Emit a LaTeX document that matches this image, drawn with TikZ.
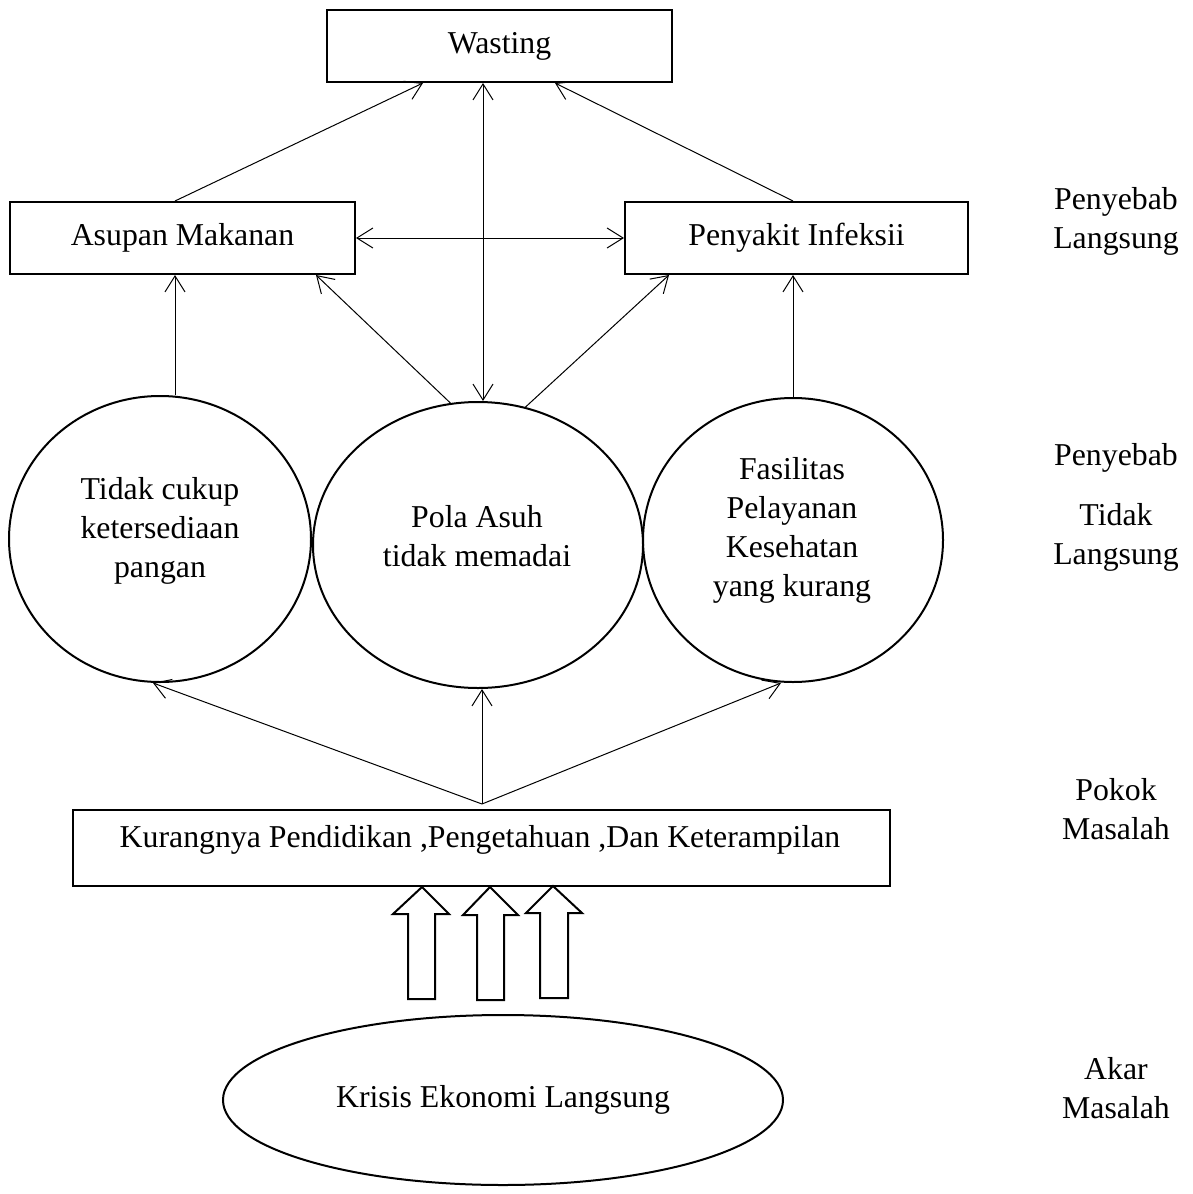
\documentclass[tikz,border=0pt]{standalone}
\usepackage{fontspec}
\setmainfont{Liberation Serif}
\usetikzlibrary{arrows.meta,shapes.geometric}
\begin{document}
\begin{tikzpicture}[x=0.5pt,y=-0.5pt,
  txt/.style={font=\fontsize{15.9pt}{19.5pt}\selectfont, align=center, inner sep=0pt},
  rectnode/.style={txt, draw, line width=1pt, minimum height=36pt},
  ell/.style={txt, draw, ellipse, line width=1pt, inner sep=0pt},
  tipb/.tip={Straight Barb[length=8pt,width=10pt]},
  conn/.style={line width=0.5pt, -tipb},
  dconn/.style={line width=0.5pt, tipb-tipb},
  blockarrow/.style={draw, line width=1pt, fill=white, line join=miter}]
\useasboundingbox (0,0) rectangle (1193,1194);

% boxes
\node[rectnode, minimum width=172.5pt] (wasting) at (499.5,46) {Wasting};
\node[rectnode, minimum width=172.5pt] (asupan) at (182.5,238) {Asupan Makanan};
\node[rectnode, minimum width=171.5pt] (penyakit) at (796.5,238) {Penyakit Infeksii};

% circles
\node[ell, minimum width=151pt, minimum height=143pt] (left) at (160,539) {};
\node[txt] (lefttxt) at (160,531) {Tidak cukup\\ketersediaan\\pangan};
\node[ell, minimum width=165pt, minimum height=143pt] (middle) at (478,545) {};
\node[txt] (midtxt) at (477,536) {Pola Asuh\\tidak memadai};
\node[ell, minimum width=150pt, minimum height=142pt] (right) at (793,540) {};
\node[txt] (righttxt) at (792,530) {Fasilitas\\Pelayanan\\Kesehatan\\yang kurang};

% bottom box and ellipse
\node[draw, line width=1pt, minimum width=408.5pt, minimum height=38pt, inner sep=0pt] (kurang) at (481.5,848) {};
\node[txt] (kurangtxt) at (480,840) {Kurangnya Pendidikan ,Pengetahuan ,Dan Keterampilan};
\node[ell, minimum width=280pt, minimum height=85pt] (krisis) at (503,1100) {Krisis Ekonomi Langsung};

% right-hand labels
\node[txt] (l1) at (1116,221) {Penyebab\\Langsung};
\node[txt] (l2) at (1116,458) {Penyebab};
\node[txt] (l3) at (1116,537) {Tidak\\Langsung};
\node[txt] (l4) at (1116,809) {Pokok\\Masalah};
\node[txt] (l5) at (1116,1088) {Akar\\Masalah};

% connectors
\draw[conn] ([xshift=-3.75pt]asupan.north) -- ([xshift=-38.25pt]wasting.south);
\draw[conn] ([xshift=-1.75pt]penyakit.north) -- ([xshift=27.75pt]wasting.south);
\draw[dconn] ([xshift=2.5pt]middle.north) -- ([xshift=-8.25pt]wasting.south);
\draw[dconn] (asupan.east) -- (penyakit.west);
\draw[conn] ([xshift=7.5pt]left.north) -- ([xshift=-3.75pt]asupan.south);
\draw[conn] (middle.101) -- ([xshift=-20pt]asupan.south east);
\draw[conn] (middle.71) -- ([xshift=22.5pt]penyakit.south west);
\draw[conn] (right.north) -- ([xshift=-1.75pt]penyakit.south);

\coordinate (apex) at (482,804);
\draw[conn] (apex) -- ([xshift=-3.5pt]left.south);
\draw[conn] (apex) -- ([xshift=2pt]middle.south);
\draw[conn] (apex) -- ([xshift=-6pt]right.south);

% block arrows
\draw[blockarrow] (422,887) -- (449,914) -- (435,914) -- (435,999) -- (408,999) -- (408,914) -- (393,914) -- cycle;
\draw[blockarrow] (490,887) -- (518,915) -- (504,915) -- (504,1000) -- (477,1000) -- (477,915) -- (463,915) -- cycle;
\draw[blockarrow] (553,886) -- (582,913) -- (568,913) -- (568,998) -- (540,998) -- (540,913) -- (526,913) -- cycle;
\end{tikzpicture}
\end{document}
